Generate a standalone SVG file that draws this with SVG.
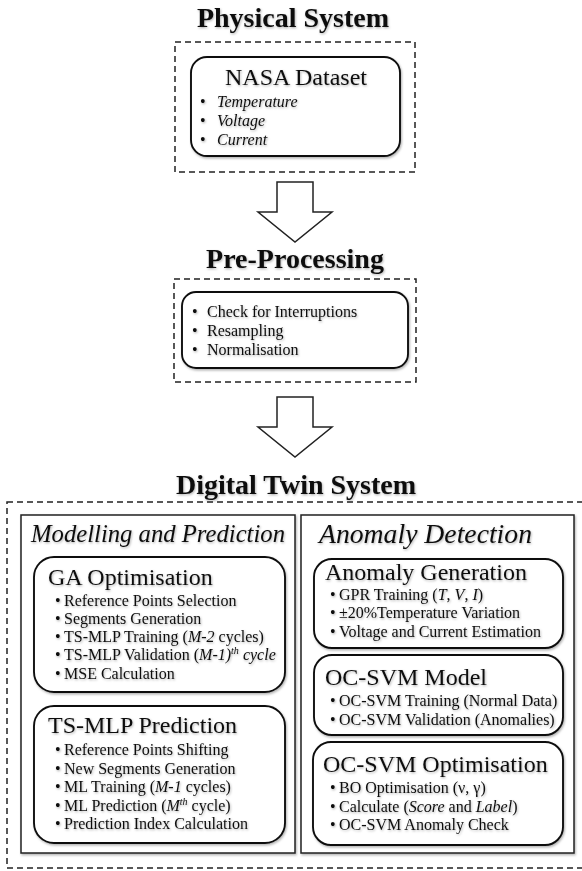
<svg xmlns="http://www.w3.org/2000/svg" width="582" height="871" viewBox="0 0 582 871">
  <defs>
    <filter id="shadow" x="-10%" y="-10%" width="120%" height="130%">
      <feDropShadow dx="1" dy="1.5" stdDeviation="1.2" flood-color="#000" flood-opacity="0.3"/>
    </filter>
    <filter id="tshadow" x="-5%" y="-20%" width="110%" height="150%">
      <feDropShadow dx="0.8" dy="1.2" stdDeviation="0.9" flood-color="#000" flood-opacity="0.3"/>
    </filter>
  </defs>
  <style>
    text { font-family: "Liberation Serif", "Times New Roman", serif; fill: #111; }
    .h1 { font-size: 28px; font-weight: bold; text-anchor: middle; }
    .h2 { font-size: 24px; }
    .h3 { font-size: 25px; font-style: italic; }
    .b { font-size: 16px; }
    .i { font-style: italic; }
    .sup { font-size: 10px; font-style: italic; }
    .dash { fill: none; stroke: #222; stroke-width: 1.5; stroke-dasharray: 6 4; }
    .rbox { fill: #fff; stroke: #111; stroke-width: 1.9; filter: url(#shadow); }
    .panel { fill: #fff; stroke: #222; stroke-width: 1.5; filter: url(#shadow); }
    .arrow { fill: #fff; stroke: #222; stroke-width: 1.5; stroke-linejoin: miter; }
    .txt { filter: url(#tshadow); }
  </style>

  <rect width="582" height="871" fill="#fff"/>

  <!-- Physical system -->
  <g id="physical-system">
    <text class="h1 txt" x="293" y="27">Physical System</text>
    <rect class="dash" x="175" y="42" width="240" height="130"/>
  </g>
  <g id="nasa-dataset">
    <rect class="rbox" x="191" y="57" width="209" height="99" rx="16"/>
    <g class="txt">
      <text class="h2" x="296" y="85" text-anchor="middle">NASA Dataset</text>
      <text class="b" x="200" y="107">•</text><text class="b i" x="217" y="107">Temperature</text>
      <text class="b" x="200" y="126">•</text><text class="b i" x="217" y="126">Voltage</text>
      <text class="b" x="200" y="145">•</text><text class="b i" x="217" y="145">Current</text>
    </g>
  </g>

  <!-- Pre-processing -->
  <g id="pre-processing">
    <text class="h1 txt" x="295" y="268">Pre-Processing</text>
    <rect class="dash" x="174" y="279" width="242" height="103"/>
  </g>
  <g id="pre-processing-steps">
    <rect class="rbox" x="182" y="292" width="226" height="76" rx="14"/>
    <g class="txt">
      <text class="b" x="192" y="317">•</text><text class="b" x="207" y="317">Check for Interruptions</text>
      <text class="b" x="192" y="336">•</text><text class="b" x="207" y="336">Resampling</text>
      <text class="b" x="192" y="355">•</text><text class="b" x="207" y="355">Normalisation</text>
    </g>
  </g>

  <!-- Digital twin system -->
  <g id="digital-twin">
    <text class="h1 txt" x="296" y="494">Digital Twin System</text>
    <rect class="dash" x="7" y="502" width="600" height="366"/>
  </g>

  <g id="modelling-prediction">
    <rect class="panel" x="21" y="515" width="274" height="338"/>
    <text class="h3 txt" x="31" y="542" textLength="254" lengthAdjust="spacingAndGlyphs">Modelling and Prediction</text>
  </g>

  <g id="ga-optimisation">
    <rect class="rbox" x="34" y="557" width="251" height="135" rx="20"/>
    <g class="txt">
      <text class="h2" x="48" y="585">GA Optimisation</text>
      <text class="b" x="55" y="606">•</text><text class="b" x="64" y="606">Reference Points Selection</text>
      <text class="b" x="55" y="624">•</text><text class="b" x="64" y="624">Segments Generation</text>
      <text class="b" x="55" y="642">•</text><text class="b" x="64" y="642">TS-MLP Training (<tspan class="i">M-2</tspan> cycles)</text>
      <text class="b" x="55" y="660">•</text><text class="b" x="64" y="660">TS-MLP Validation (<tspan class="i">M-1)</tspan><tspan class="sup" dy="-6">th</tspan><tspan class="i" dy="6"> cycle</tspan></text>
      <text class="b" x="55" y="679">•</text><text class="b" x="64" y="679">MSE Calculation</text>
    </g>
  </g>

  <g id="ts-mlp-prediction">
    <rect class="rbox" x="34" y="706" width="251" height="137" rx="20"/>
    <g class="txt">
      <text class="h2" x="48" y="733">TS-MLP Prediction</text>
      <text class="b" x="55" y="755">•</text><text class="b" x="64" y="755">Reference Points Shifting</text>
      <text class="b" x="55" y="773.5">•</text><text class="b" x="64" y="773.5">New Segments Generation</text>
      <text class="b" x="55" y="792">•</text><text class="b" x="64" y="792">ML Training (<tspan class="i">M-1</tspan> cycles)</text>
      <text class="b" x="55" y="810.5">•</text><text class="b" x="64" y="810.5">ML Prediction (<tspan class="i">M</tspan><tspan class="sup" dy="-6">th</tspan><tspan dy="6"> cycle)</tspan></text>
      <text class="b" x="55" y="829">•</text><text class="b" x="64" y="829">Prediction Index Calculation</text>
    </g>
  </g>

  <g id="anomaly-detection">
    <rect class="panel" x="301" y="515" width="273" height="338"/>
    <text class="h3 txt" x="319" y="543" style="font-size:27px" textLength="213" lengthAdjust="spacingAndGlyphs">Anomaly Detection</text>
  </g>

  <g id="anomaly-generation">
    <rect class="rbox" x="314" y="559" width="249" height="89" rx="18"/>
    <g class="txt">
      <text class="h2" x="325" y="580">Anomaly Generation</text>
      <text class="b" x="330" y="600">•</text><text class="b" x="339" y="600">GPR Training (<tspan class="i">T</tspan>, <tspan class="i">V</tspan>, <tspan class="i">I</tspan>)</text>
      <text class="b" x="330" y="618">•</text><text class="b" x="339" y="618">±20%Temperature Variation</text>
      <text class="b" x="330" y="637">•</text><text class="b" x="339" y="637">Voltage and Current Estimation</text>
    </g>
  </g>

  <g id="oc-svm-model">
    <rect class="rbox" x="314" y="655" width="249" height="80" rx="18"/>
    <g class="txt">
      <text class="h2" x="325" y="685">OC-SVM Model</text>
      <text class="b" x="330" y="706">•</text><text class="b" x="339" y="706">OC-SVM Training (Normal Data)</text>
      <text class="b" x="330" y="725">•</text><text class="b" x="339" y="725">OC-SVM Validation (Anomalies)</text>
    </g>
  </g>

  <g id="oc-svm-optimisation">
    <rect class="rbox" x="313" y="742" width="250" height="103" rx="18"/>
    <g class="txt">
      <text class="h2" x="323" y="772">OC-SVM Optimisation</text>
      <text class="b" x="330" y="793">•</text><text class="b" x="339" y="793">BO Optimisation (ν, γ)</text>
      <text class="b" x="330" y="812">•</text><text class="b" x="339" y="812">Calculate (<tspan class="i">Score</tspan> and <tspan class="i">Label</tspan>)</text>
      <text class="b" x="330" y="830">•</text><text class="b" x="339" y="830">OC-SVM Anomaly Check</text>
    </g>
  </g>

  <!-- Flow arrows between stages -->
  <g id="connectors">
    <polygon class="arrow" points="277,182 313,182 313,212 332,212 295,242 258,212 277,212"/>
    <polygon class="arrow" points="277,397 313,397 313,427 332,427 295,457 258,427 277,427"/>
  </g>
</svg>
